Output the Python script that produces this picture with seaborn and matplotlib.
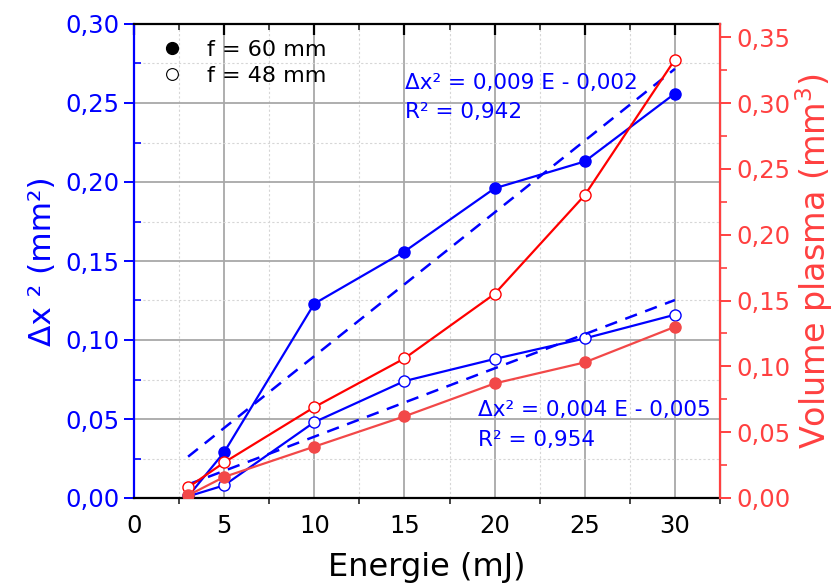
import numpy as np
import matplotlib
matplotlib.use("Agg")
import matplotlib.pyplot as plt
import seaborn as sns
from matplotlib.ticker import MultipleLocator, FuncFormatter
from matplotlib.lines import Line2D

# energie (mJ)
energie = [3, 5, 10, 15, 20, 25, 30]
# delta x^2 (mm^2), left axis
dx2_60 = [0.001, 0.029, 0.123, 0.156, 0.196, 0.213, 0.256]
dx2_48 = [0.001, 0.008, 0.048, 0.074, 0.088, 0.101, 0.116]
# plasma volume (mm^3), right axis
vol_60 = [0.002, 0.016, 0.039, 0.062, 0.087, 0.103, 0.130]
vol_48 = [0.008, 0.027, 0.069, 0.106, 0.155, 0.230, 0.333]

legend_labels = ["f = 60 mm", "f = 48 mm"]
fit_texts = [("Δx² = 0,009 E - 0,002", "R² = 0,942"),
             ("Δx² = 0,004 E - 0,005", "R² = 0,954")]

BLUE = "#0000FF"
RED = "#FF0000"
RED2 = "#F24848"
RAXIS = "#FF4040"

sns.set_style("white")
plt.rcParams["font.family"] = ["DejaVu Sans"]
plt.rcParams["text.color"] = "black"
plt.rcParams["axes.labelcolor"] = "black"

fig = plt.figure(figsize=(8.39, 5.87), dpi=100)
ax = fig.add_axes([134 / 839, 89 / 587, 586 / 839, 474 / 587])
ax2 = ax.twinx()

def comma(v, pos):
    return f"{v:.2f}".replace(".", ",")

# linear fits
fit_x = np.array([min(energie), max(energie)])
p60 = np.polyfit(energie, dx2_60, 1)
p48 = np.polyfit(energie, dx2_48, 1)

mk = dict(marker="o", markersize=8, markeredgewidth=1.0, linewidth=1.6)

sns.lineplot(x=energie, y=dx2_60, ax=ax, color=BLUE, markerfacecolor=BLUE,
             markeredgecolor=BLUE, **mk)
sns.lineplot(x=energie, y=dx2_48, ax=ax, color=BLUE, markerfacecolor="white",
             markeredgecolor=BLUE, **mk)
sns.lineplot(x=fit_x, y=np.polyval(p60, fit_x), ax=ax, color=BLUE,
             linewidth=1.8, dashes=(5, 3.5))
sns.lineplot(x=fit_x, y=np.polyval(p48, fit_x), ax=ax, color=BLUE,
             linewidth=1.8, dashes=(5, 3.5))

sns.lineplot(x=energie, y=vol_48, ax=ax2, color=RED, markerfacecolor="white",
             markeredgecolor=RED, **mk)
sns.lineplot(x=energie, y=vol_60, ax=ax2, color=RED2, markerfacecolor=RED2,
             markeredgecolor=RED2, **mk)

ax.set_xlim(0, 32.5)
ax.set_ylim(0, 0.30)
ax2.set_ylim(0, 0.36)

ax.xaxis.set_major_locator(MultipleLocator(5))
ax.xaxis.set_minor_locator(MultipleLocator(2.5))
ax.yaxis.set_major_locator(MultipleLocator(0.05))
ax.yaxis.set_minor_locator(MultipleLocator(0.025))
ax2.yaxis.set_major_locator(MultipleLocator(0.05))
ax2.yaxis.set_minor_locator(MultipleLocator(0.025))
ax.yaxis.set_major_formatter(FuncFormatter(comma))
ax2.yaxis.set_major_formatter(FuncFormatter(comma))

ax.grid(which="major", color="#a8a8a8", linewidth=1.3)
ax.grid(which="minor", color="#d6d6d6", linewidth=0.8, linestyle=(0, (2, 2)))
ax.set_axisbelow(True)

for s in ["top", "bottom"]:
    ax.spines[s].set_color("black")
    ax.spines[s].set_linewidth(1.6)
ax.spines["left"].set_color(BLUE)
ax.spines["left"].set_linewidth(1.6)
ax2.spines["right"].set_color(RAXIS)
ax2.spines["right"].set_linewidth(1.6)
ax2.spines["left"].set_visible(False)
ax2.spines["top"].set_visible(False)
ax2.spines["bottom"].set_visible(False)

ax.tick_params(axis="x", which="major", direction="out", length=8, width=1.6,
               labelsize=17.5, colors="black", top=True)
ax.tick_params(axis="x", which="minor", direction="out", length=4, width=1.2,
               top=True, bottom=True)
ax.tick_params(axis="y", which="major", direction="out", length=7, width=1.4,
               labelsize=17.5, colors=BLUE, left=True)
ax.tick_params(axis="y", which="minor", direction="in", length=5, width=1.2,
               colors=BLUE, left=True)
ax2.tick_params(axis="y", which="major", direction="out", length=8, width=1.4,
                labelsize=17.5, colors=RAXIS, right=True)
ax2.tick_params(axis="y", which="minor", direction="out", length=5, width=1.2,
                colors=RAXIS, right=True)
ax.xaxis.set_tick_params(which="both", labeltop=False)
# top ticks point inward
for t in ax.xaxis.get_major_ticks() + ax.xaxis.get_minor_ticks():
    t.tick2line.set_marker(3)

ax.set_xlabel("Energie (mJ)", fontsize=23, labelpad=10, color="black")
ax.set_ylabel("Δx ² (mm²)", fontsize=22.5, color=BLUE, labelpad=6)
ax2.set_ylabel("Volume plasma (mm$^3$)", fontsize=24, color=RAXIS, labelpad=2)

handles = [Line2D([], [], linestyle="none", marker="o", markersize=8.5,
                  markerfacecolor="black", markeredgecolor="black"),
           Line2D([], [], linestyle="none", marker="o", markersize=8.5,
                  markerfacecolor="white", markeredgecolor="black", markeredgewidth=0.8)]
ax.legend(handles, legend_labels, loc="upper left", frameon=False, fontsize=16,
          handletextpad=0.6, borderaxespad=0.3, labelspacing=0.3,
          bbox_to_anchor=(0.0, 1.0))

ax.text(0.4625, 0.8755, fit_texts[0][0], transform=ax.transAxes, color=BLUE,
        fontsize=15.5, va="center", ha="left")
ax.text(0.4625, 0.8145, fit_texts[0][1], transform=ax.transAxes, color=BLUE,
        fontsize=15.5, va="center", ha="left")
ax.text(0.587, 0.1855, fit_texts[1][0], transform=ax.transAxes, color=BLUE,
        fontsize=15.5, va="center", ha="left")
ax.text(0.587, 0.122, fit_texts[1][1], transform=ax.transAxes, color=BLUE,
        fontsize=15.5, va="center", ha="left")

ax2.set_zorder(ax.get_zorder() + 1)
fig.savefig("out.png", dpi=100)
